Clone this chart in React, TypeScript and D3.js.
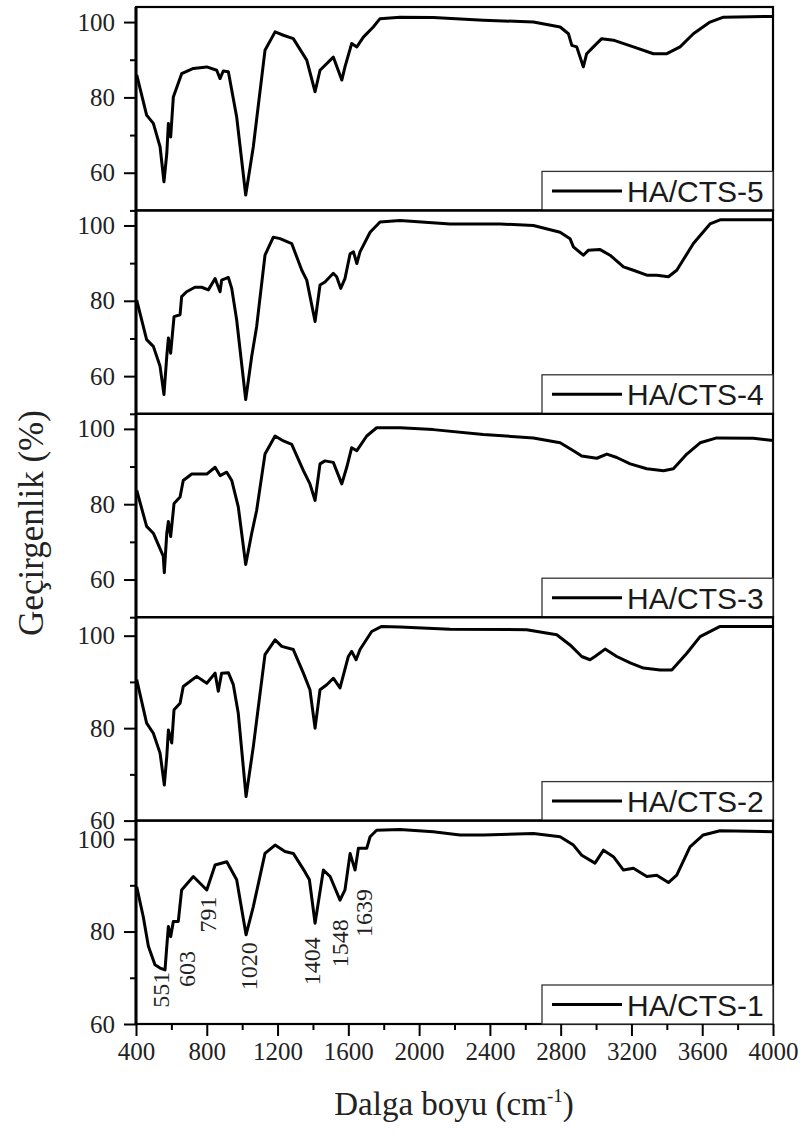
import { useRef, useEffect } from "react";
import * as d3 from "d3";

// samples, top panel first
const samples = ["HA/CTS-5", "HA/CTS-4", "HA/CTS-3", "HA/CTS-2", "HA/CTS-1"];

// [wavenumber (cm-1), transmittance (%)]
const cts5: [number, number][] = [
  [404, 86], [460, 75.3], [498, 73.1], [536, 66.9], [558, 57.6], [574, 65.1], [583, 73.1], [596, 69.5],
  [611, 80.1], [658, 86.3], [724, 87.7], [800, 88.1], [856, 87.2], [875, 85], [893, 87], [922, 86.8],
  [969, 74.8], [1020, 54.1], [1063, 66.9], [1129, 92.5], [1186, 97.4], [1233, 96.5], [1289, 95.6],
  [1365, 89.9], [1412, 81.5], [1440, 87.2], [1515, 90.7], [1563, 84.6], [1581, 88.1], [1619, 94.3],
  [1648, 93.4], [1685, 96], [1741, 98.7], [1779, 100.9], [1892, 101.3], [2080, 101.2], [2363, 100.5],
  [2646, 100], [2797, 98.7], [2844, 96.9], [2863, 93.8], [2891, 93.4], [2928, 88.1], [2947, 91.6],
  [2985, 93.4], [3032, 95.6], [3098, 95.2], [3211, 93.4], [3324, 91.6], [3400, 91.6], [3475, 93.4],
  [3550, 96.9], [3644, 100], [3720, 101.3], [4000, 101.5],
];
const cts4: [number, number][] = [
  [404, 80.2], [460, 69.7], [498, 67.9], [536, 62.6], [558, 55.1], [574, 65.3], [583, 70.1], [596, 66.1],
  [615, 75.8], [649, 76.3], [658, 81.1], [686, 82.4], [733, 83.6], [771, 83.6], [809, 82.9], [847, 85.9],
  [875, 82.4], [884, 85.5], [922, 86.2], [941, 83.3], [969, 74.9], [1020, 53.8], [1054, 65.3],
  [1082, 73.2], [1129, 92.1], [1176, 96.9], [1214, 96.5], [1280, 95.2], [1337, 88.1], [1365, 85.5],
  [1412, 74.5], [1440, 84.2], [1468, 85], [1515, 87.3], [1534, 86.4], [1557, 83.3], [1581, 85.9],
  [1610, 92.5], [1629, 93], [1648, 89.9], [1666, 93], [1723, 98.2], [1779, 100.9], [1892, 101.3],
  [2175, 100.4], [2457, 100.4], [2646, 100], [2797, 98.2], [2853, 96.5], [2872, 94.3], [2928, 92.1],
  [2956, 93.4], [3023, 93.6], [3079, 92.1], [3155, 89], [3211, 88.1], [3287, 86.8], [3343, 86.8],
  [3409, 86.4], [3456, 88.1], [3550, 95.2], [3644, 100.4], [3701, 101.5], [4000, 101.5],
];
const cts3: [number, number][] = [
  [404, 83.7], [460, 74.1], [498, 72.3], [554, 66.2], [560, 61.8], [574, 72.3], [583, 75.4], [596, 71.4],
  [615, 80.2], [649, 81.9], [667, 86.3], [715, 88], [800, 88], [847, 89.8], [875, 87.6], [913, 88.5],
  [941, 86.3], [978, 79.3], [1020, 64], [1054, 72.3], [1082, 78.4], [1129, 93.3], [1186, 98.1],
  [1233, 96.8], [1280, 95.9], [1346, 88.9], [1383, 85.4], [1412, 81], [1440, 90.7], [1468, 91.5],
  [1515, 91.1], [1563, 85.4], [1591, 89.8], [1619, 95], [1648, 94.2], [1704, 98.1], [1760, 100.3],
  [1892, 100.3], [2080, 99.8], [2363, 98.5], [2646, 97.6], [2797, 96.3], [2872, 94.2], [2919, 92.8],
  [3004, 92.2], [3061, 93.3], [3117, 92.4], [3193, 90.7], [3287, 89.4], [3381, 88.9], [3437, 89.4],
  [3513, 93.3], [3588, 96.3], [3682, 97.6], [3889, 97.5], [4000, 96.9],
];
const cts2: [number, number][] = [
  [404, 90.5], [460, 81.1], [498, 78.9], [536, 74.6], [560, 67.7], [574, 73.9], [583, 79.6], [602, 76.8],
  [615, 84], [649, 85.4], [667, 89], [743, 91.2], [800, 89.7], [847, 91.9], [865, 88], [884, 91.9],
  [922, 92], [950, 89.4], [978, 83.2], [1022, 65.2], [1063, 76], [1129, 95.9], [1186, 99.1],
  [1224, 97.7], [1289, 97], [1346, 91.9], [1383, 88.3], [1412, 80], [1440, 88.3], [1478, 89.4],
  [1515, 90.8], [1553, 88.7], [1600, 95.5], [1619, 96.6], [1644, 94.8], [1666, 97], [1732, 100.9],
  [1789, 102], [1892, 101.9], [2175, 101.4], [2608, 101.3], [2778, 100.2], [2853, 98], [2919, 95.5],
  [2966, 94.8], [2994, 95.5], [3051, 97.1], [3117, 95.5], [3193, 94.1], [3268, 93], [3362, 92.6],
  [3428, 92.6], [3513, 96.2], [3588, 99.8], [3701, 102], [4000, 102],
];
const cts1: [number, number][] = [
  [404, 89.7], [441, 83.2], [470, 76.8], [507, 72.8], [536, 72.1], [564, 71.7], [574, 76.8], [583, 81.1],
  [596, 78.9], [611, 82.2], [639, 82.2], [658, 89], [724, 91.9], [800, 89], [847, 94.4], [913, 95.1],
  [969, 91.2], [1022, 79.3], [1063, 85.4], [1129, 96.9], [1186, 98.7], [1242, 97.3], [1289, 96.9],
  [1355, 92.9], [1380, 91.2], [1412, 81.8], [1459, 93.3], [1497, 91.9], [1553, 86.8], [1581, 89],
  [1610, 96.9], [1638, 93.3], [1657, 98], [1704, 98], [1723, 100.5], [1760, 101.9], [1892, 102.1],
  [2080, 101.6], [2231, 100.9], [2363, 100.9], [2646, 101.2], [2797, 100.5], [2872, 98.7],
  [2919, 96.5], [2994, 94.8], [3042, 97.6], [3098, 96.2], [3155, 93.3], [3211, 93.7], [3287, 91.9],
  [3343, 92.2], [3409, 90.6], [3456, 92.2], [3531, 98.3], [3606, 100.9], [3701, 101.8], [4000, 101.6],
];
const spectra = [cts5, cts4, cts3, cts2, cts1];

// lower y limit of each panel (upper is 104)
const yMins = [50, 50, 50, 60, 60];
const yMajor = [60, 80, 100];
const yMinor = [50, 70, 90];
const xMajor = d3.range(400, 4001, 400);
const xMinor = d3.range(600, 4000, 400);

// band labels on the HA/CTS-1 panel, with where each label sits (wavenumber, transmittance)
const peakLabels = ["551", "603", "791", "1020", "1404", "1548", "1639"];
const peakLabelWn = [541, 688, 807, 1039, 1395, 1553, 1689];
const peakLabelT = [63.5, 68, 79.8, 67.3, 68.4, 72.3, 78.8];

const App = () => {
  const svgRef = useRef<SVGSVGElement>(null);

  useEffect(() => {
    const width = 805;
    const height = 1139;
    const left = 136;
    const right = 773;
    const top = 7;
    const bottom = 1024;
    const panelH = (bottom - top) / samples.length;
    const serif = "Liberation Serif, Times New Roman, serif";
    const sans = "Liberation Sans, Arial, sans-serif";

    const svg = d3
      .select(svgRef.current)
      .attr("width", width)
      .attr("height", height)
      .style("background", "#fff");
    svg.selectAll("*").remove();

    const x = d3.scaleLinear().domain([400, 4000]).range([left, right]);

    samples.forEach((name, i) => {
      const pTop = top + i * panelH;
      const pBot = pTop + panelH;
      const y = d3.scaleLinear().domain([yMins[i], 104]).range([pBot, pTop]);
      const g = svg.append("g");

      // curve
      const line = d3
        .line<[number, number]>()
        .x((d) => x(d[0]))
        .y((d) => y(d[1]));
      g.append("path")
        .attr("d", line(spectra[i]))
        .attr("fill", "none")
        .attr("stroke", "#000")
        .attr("stroke-width", 3)
        .attr("stroke-linejoin", "round");

      // y axis
      const yAxis = d3
        .axisLeft(y)
        .tickValues(yMajor)
        .tickFormat(d3.format("d"))
        .tickSize(12)
        .tickPadding(9)
        .tickSizeOuter(0);
      const ya = g.append("g").attr("transform", `translate(${left},0)`).call(yAxis);
      ya.select(".domain").remove();
      ya.selectAll("line").attr("stroke-width", 2);
      ya.selectAll("text")
        .style("font-family", serif)
        .style("font-size", "25px")
        .attr("fill", "#222");
      const yMinorAxis = d3
        .axisLeft(y)
        .tickValues(yMinor.filter((v) => v >= yMins[i]))
        .tickSize(6)
        .tickFormat(() => "");
      const ym = g.append("g").attr("transform", `translate(${left},0)`).call(yMinorAxis);
      ym.select(".domain").remove();
      ym.selectAll("line").attr("stroke-width", 2);

      // frame
      g.append("rect")
        .attr("x", left)
        .attr("y", pTop)
        .attr("width", right - left)
        .attr("height", panelH)
        .attr("fill", "none")
        .attr("stroke", "#000")
        .attr("stroke-width", 2.2);

      // legend
      const lg = g.append("g");
      lg.append("rect")
        .attr("x", 542)
        .attr("y", pBot - 39)
        .attr("width", right - 542)
        .attr("height", 39)
        .attr("fill", "#fff")
        .attr("stroke", "#333")
        .attr("stroke-width", 1.3);
      lg.append("line")
        .attr("x1", 552)
        .attr("x2", 622)
        .attr("y1", pBot - 19.5)
        .attr("y2", pBot - 19.5)
        .attr("stroke", "#000")
        .attr("stroke-width", 3);
      lg.append("text")
        .attr("x", 627)
        .attr("y", pBot - 8.5)
        .style("font-family", sans)
        .style("font-size", "30px")
        .attr("fill", "#1a1a1a")
        .text(name);

      // band labels on the bottom panel
      if (i === samples.length - 1) {
        peakLabels.forEach((lab, k) => {
          g.append("text")
            .attr("transform", `translate(${x(peakLabelWn[k])},${y(peakLabelT[k])}) rotate(-90)`)
            .attr("dy", "0.35em")
            .style("font-family", serif)
            .style("font-size", "24px")
            .attr("fill", "#222")
            .text(lab);
        });
      }
    });

    // thick left spine
    svg.append("line")
      .attr("x1", left)
      .attr("x2", left)
      .attr("y1", top)
      .attr("y2", bottom)
      .attr("stroke", "#000")
      .attr("stroke-width", 3);

    // x axis
    const xa = svg
      .append("g")
      .attr("transform", `translate(0,${bottom})`)
      .call(
        d3
          .axisBottom(x)
          .tickValues(xMajor)
          .tickFormat(d3.format("d"))
          .tickSize(12)
          .tickPadding(6)
          .tickSizeOuter(0)
      );
    xa.select(".domain").remove();
    xa.selectAll("line").attr("stroke-width", 2);
    xa.selectAll("text")
      .style("font-family", serif)
      .style("font-size", "25px")
      .attr("fill", "#222");
    const xm = svg
      .append("g")
      .attr("transform", `translate(0,${bottom})`)
      .call(d3.axisBottom(x).tickValues(xMinor).tickSize(6).tickFormat(() => ""));
    xm.select(".domain").remove();
    xm.selectAll("line").attr("stroke-width", 2);

    // axis titles
    svg.append("text")
      .attr("transform", `translate(43,523) rotate(-90)`)
      .attr("text-anchor", "middle")
      .style("font-family", serif)
      .style("font-size", "35px")
      .attr("fill", "#222")
      .text("Geçirgenlik (%)");

    const xt = svg.append("text")
      .attr("x", 454)
      .attr("y", 1115)
      .attr("text-anchor", "middle")
      .style("font-family", serif)
      .style("font-size", "33px")
      .attr("fill", "#222");
    xt.append("tspan").text("Dalga boyu (cm");
    xt.append("tspan").style("font-size", "19px").attr("dy", -13).text("-1");
    xt.append("tspan").attr("dy", 13).text(")");
  }, []);

  return (
    <svg
      ref={svgRef}
      style={{ position: "absolute", left: 0, top: 0, display: "block" }}
    ></svg>
  );
};

export default App;
